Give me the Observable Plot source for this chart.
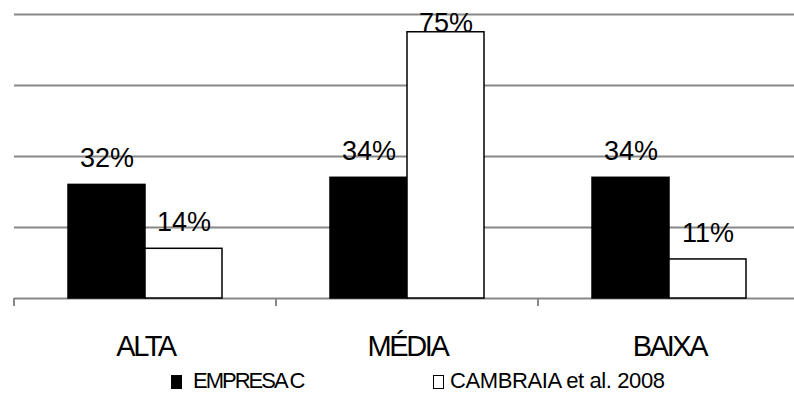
<!DOCTYPE html>
<html>
<head>
<meta charset="utf-8">
<script src="https://cdn.jsdelivr.net/npm/d3@7"></script>
<script src="https://cdn.jsdelivr.net/npm/@observablehq/plot@0.6"></script>
<style>
  html, body { margin: 0; padding: 0; background: #fff; }
  body { width: 794px; height: 394px; overflow: hidden; font-family: "Liberation Sans", Arial, sans-serif; }
  #chart svg { display: block; }
  #chart g[aria-label="fx-axis tick label"] text { letter-spacing: -2.4px; }
  #legend { position: relative; height: 27px; font-size: 22px; line-height: 28px; color: #000; }
  #legend .sw { position: absolute; top: 8px; height: 14px; box-sizing: border-box; }
  #legend .lab { position: absolute; top: 0; white-space: nowrap; }
</style>
</head>
<body>
<div id="chart"></div>
<div id="legend"></div>
<script>
const categories = ["ALTA", "MÉDIA", "BAIXA"];
const series = ["EMPRESA C", "CAMBRAIA et al. 2008"];
const empresaC = [32, 34, 34];
const cambraia = [14, 75, 11];
const valueLabels = ["32%", "34%", "34%", "14%", "75%", "11%"];
const gridTicks = [0, 20, 40, 60, 80];
const yMax = 80;

const rows = [];
categories.forEach((c, i) => rows.push({category: c, series: series[0], value: empresaC[i]}));
categories.forEach((c, i) => rows.push({category: c, series: series[1], value: cambraia[i]}));
rows.forEach((r, i) => r.label = valueLabels[i]);

const gray = "#878787";

const bandTick = (index, scales, values, dimensions) => {
  const y0 = scales.y(0);
  const x0 = dimensions.marginLeft;
  const g = d3.create("svg:g");
  g.append("line")
    .attr("x1", x0).attr("x2", x0)
    .attr("y1", y0).attr("y2", y0 + 8)
    .attr("stroke", gray).attr("stroke-width", 2);
  return g.node();
};

const chart = Plot.plot({
  width: 794,
  height: 367,
  marginLeft: 14,
  marginRight: -6,
  marginTop: 14,
  marginBottom: 69,
  style: {fontFamily: "'Liberation Sans', Arial, sans-serif", fontSize: "29px", color: "#000", background: "#fff"},
  fx: {domain: categories, padding: 0, axis: "bottom", tickSize: 0, tickPadding: 37, label: null},
  x: {domain: series, paddingInner: 0, paddingOuter: 0.7, axis: null},
  y: {domain: [0, yMax], axis: null},
  color: {domain: series, range: ["#000000", "#ffffff"]},
  marks: [
    Plot.ruleY(gridTicks, {stroke: gray, strokeWidth: 2, strokeOpacity: 1}),
    bandTick,
    Plot.barY(rows, {fx: "category", x: "series", y: "value", fill: "series", stroke: "#000", strokeWidth: 1.5}),
    Plot.text(rows, {
      fx: "category", x: "series",
      y: d => Math.min(d.value, yMax - 10),
      text: "label", dy: -26.5, fontSize: 27, fill: "#000"
    })
  ]
});
document.getElementById("chart").appendChild(chart);

// legend
const legend = document.getElementById("legend");
const items = [
  {name: series[0], fill: "#000", border: "1px solid #000", swLeft: 171, swWidth: 11, textLeft: 193, spacing: "-2px"},
  {name: series[1], fill: "#fff", border: "1.5px solid #000", swLeft: 433, swWidth: 11, textLeft: 450, spacing: "-0.4px"}
];
items.forEach(it => {
  const sw = document.createElement("span");
  sw.className = "sw";
  sw.style.left = it.swLeft + "px";
  sw.style.width = it.swWidth + "px";
  sw.style.background = it.fill;
  sw.style.border = it.border;
  legend.appendChild(sw);
  const lab = document.createElement("span");
  lab.className = "lab";
  lab.style.left = it.textLeft + "px";
  lab.style.letterSpacing = it.spacing;
  lab.textContent = it.name;
  legend.appendChild(lab);
});
</script>
</body>
</html>
